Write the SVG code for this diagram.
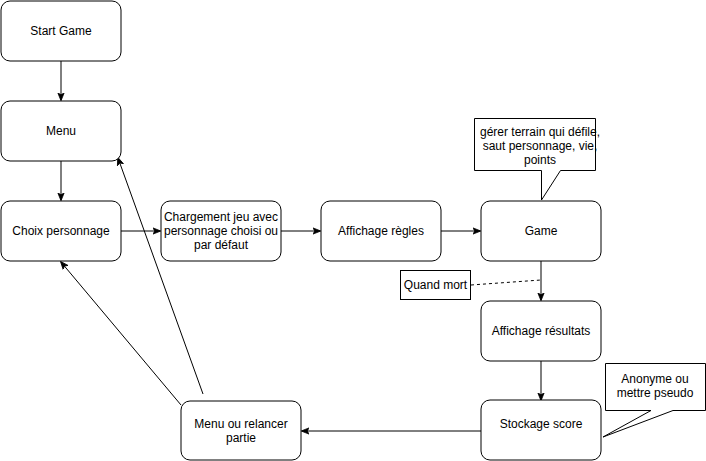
<svg xmlns="http://www.w3.org/2000/svg" width="706" height="461" viewBox="0 0 706 461">
<defs>
<style>
.n{fill:#fff;stroke:#000;stroke-width:1}
.t{font-family:"Liberation Sans",Arial,sans-serif;font-size:12px;fill:#000;text-anchor:middle}
.c{fill:none;stroke:#000;stroke-width:1}
</style>
<marker id="a" viewBox="0 0 10 10" refX="9" refY="5" markerWidth="8" markerHeight="8" markerUnits="userSpaceOnUse" orient="auto">
<path d="M0,1 L10,5 L0,9 L2.5,5 Z" fill="#000" stroke="#000"/>
</marker>
</defs>
<rect width="706" height="461" fill="#fff"/>
<g id="connectors">
<path class="c" d="M61,61 V100" marker-end="url(#a)"/>
<path class="c" d="M61,161 V200" marker-end="url(#a)"/>
<path class="c" d="M121,231 H160" marker-end="url(#a)"/>
<path class="c" d="M281,231 H320" marker-end="url(#a)"/>
<path class="c" d="M441,231 H480" marker-end="url(#a)"/>
<path class="c" d="M541,261 V300" marker-end="url(#a)"/>
<path class="c" d="M541,361 V400" marker-end="url(#a)"/>
<path class="c" d="M481,431 H302" marker-end="url(#a)"/>
<path class="c" d="M203,394 L118,158" marker-end="url(#a)"/>
<path class="c" d="M181,405 L61,262" marker-end="url(#a)"/>
<path class="c" d="M471,285 L541,280" stroke-dasharray="3,3"/>
</g>
<g id="start"><rect class="n" x="1" y="1" width="120" height="60" rx="9"/><text class="t" x="61" y="35">Start Game</text></g>
<g id="menu"><rect class="n" x="1" y="101" width="120" height="60" rx="9"/><text class="t" x="61" y="135">Menu</text></g>
<g id="choix"><rect class="n" x="1" y="201" width="120" height="60" rx="9"/><text class="t" x="61" y="235">Choix personnage</text></g>
<g id="chargement"><rect class="n" x="161" y="201" width="120" height="60" rx="9"/><text class="t" x="221" y="221">Chargement jeu avec</text><text class="t" x="221" y="235">personnage choisi ou</text><text class="t" x="221" y="249">par défaut</text></g>
<g id="regles"><rect class="n" x="321" y="201" width="120" height="60" rx="9"/><text class="t" x="381" y="235">Affichage règles</text></g>
<g id="game"><rect class="n" x="481" y="201" width="120" height="60" rx="9"/><text class="t" x="541" y="235">Game</text></g>
<g id="resultats"><rect class="n" x="481" y="301" width="120" height="60" rx="9"/><text class="t" x="541" y="335">Affichage résultats</text></g>
<g id="stockage"><rect class="n" x="481" y="400" width="120" height="60" rx="9"/><text class="t" x="541" y="428">Stockage score</text></g>
<g id="relancer"><rect class="n" x="181" y="401" width="120" height="59" rx="9"/><text class="t" x="241" y="428">Menu ou relancer</text><text class="t" x="241" y="442">partie</text></g>
<g id="callout1"><path class="n" d="M474.5,118.5 H595.5 V170.5 H560.5 L541.5,200 V170.5 H474.5 Z"/><text class="t" x="540" y="136">gérer terrain qui défile,</text><text class="t" x="540" y="150">saut personnage, vie,</text><text class="t" x="540" y="164">points</text></g>
<g id="quandmort"><rect class="n" x="400.5" y="270.5" width="70" height="29"/><text class="t" x="435.5" y="289">Quand mort</text></g>
<g id="callout2"><path class="n" d="M605.5,363.5 H705.5 V410.5 H673 L603,437 L651,410.5 H605.5 Z"/><text class="t" x="655" y="383">Anonyme ou</text><text class="t" x="655" y="397">mettre pseudo</text></g>
</svg>
